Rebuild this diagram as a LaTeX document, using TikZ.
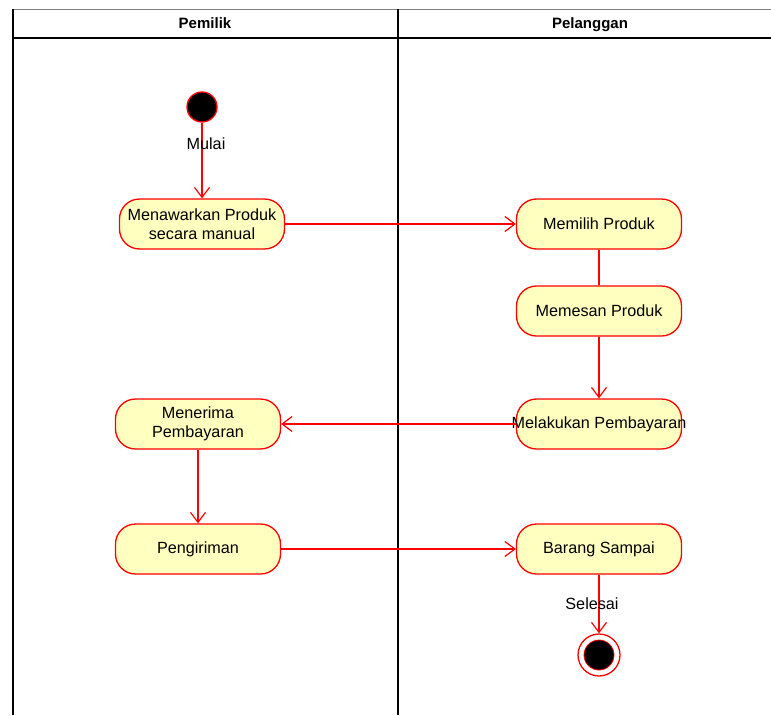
\documentclass[tikz,border=0pt]{standalone}
\usepackage{fontspec}
\setmainfont{Liberation Sans}
\usetikzlibrary{arrows.meta}
\definecolor{actfill}{RGB}{255,255,192}
\definecolor{actline}{RGB}{255,0,0}

\begin{document}
\begin{tikzpicture}
    [   x=1pt,y=-1pt,
        act/.style={draw=actline,fill=actfill,line width=1.3pt,rounded corners=20pt,minimum width=165pt,minimum height=50pt,inner sep=2pt,align=center,font=\fontsize{16.2}{19.5}\selectfont},
        flow/.style={draw=actline,line width=1.2pt,-{Straight Barb[length=10pt,width=15pt]}},
        lane/.style={draw=black,line width=1.6pt},
        lbl/.style={font=\fontsize{16.2}{19.5}\selectfont,inner sep=0pt},
        head/.style={font=\bfseries\fontsize{15}{18}\selectfont,anchor=base},
    ]
        \useasboundingbox (0,0) rectangle (771,715);
        \draw[gray,line width=1pt] (13,9) -- (771,9);
        \draw[lane] (13,9) -- (13,715);
        \draw[lane] (398,9) -- (398,715);
        \draw[lane] (13,38) -- (771,38);
        \node[head] (h1) at (205,28.5) {Pemilik};
        \node[head] (h2) at (590,28.5) {Pelanggan};

        \node[circle,draw=actline,fill=black,line width=1.3pt,minimum size=30pt,inner sep=0pt] (start) at (202,107) {};
        \node[act] (a1) at (202,224) {Menawarkan Produk\\secara manual};
        \node[act] (b1) at (599,224) {Memilih Produk};
        \node[act] (b2) at (599,311) {Memesan Produk};
        \node[act] (b3) at (599,424) {\makebox[150pt]{Melakukan Pembayaran}};
        \node[act] (a2) at (198,424) {Menerima\\Pembayaran};
        \node[act] (a3) at (198,549) {Pengiriman};
        \node[act] (b4) at (599,549) {Barang Sampai};
        \node[circle,draw=actline,line width=1.3pt,minimum size=42pt,inner sep=0pt] (stop) at (599,655) {};
        \node[circle,draw=actline,fill=black,line width=0.8pt,minimum size=30pt,inner sep=0pt] (stopin) at (599,655) {};

        \draw[flow] (start) -- (a1);
        \draw[flow] (a1) -- (b1);
        \draw[draw=actline,line width=1.2pt] (b1) -- (b2);
        \draw[flow] (b2) -- (b3);
        \draw[flow] (b3) -- (a2);
        \draw[flow] (a2) -- (a3);
        \draw[flow] (a3) -- (b4);
        \draw[flow] (b4) -- (stop);

        \node[lbl] (mulai) at (206,144) {Mulai};
        \node[lbl] (selesai) at (592,604) {Selesai};
\end{tikzpicture}
\end{document}
